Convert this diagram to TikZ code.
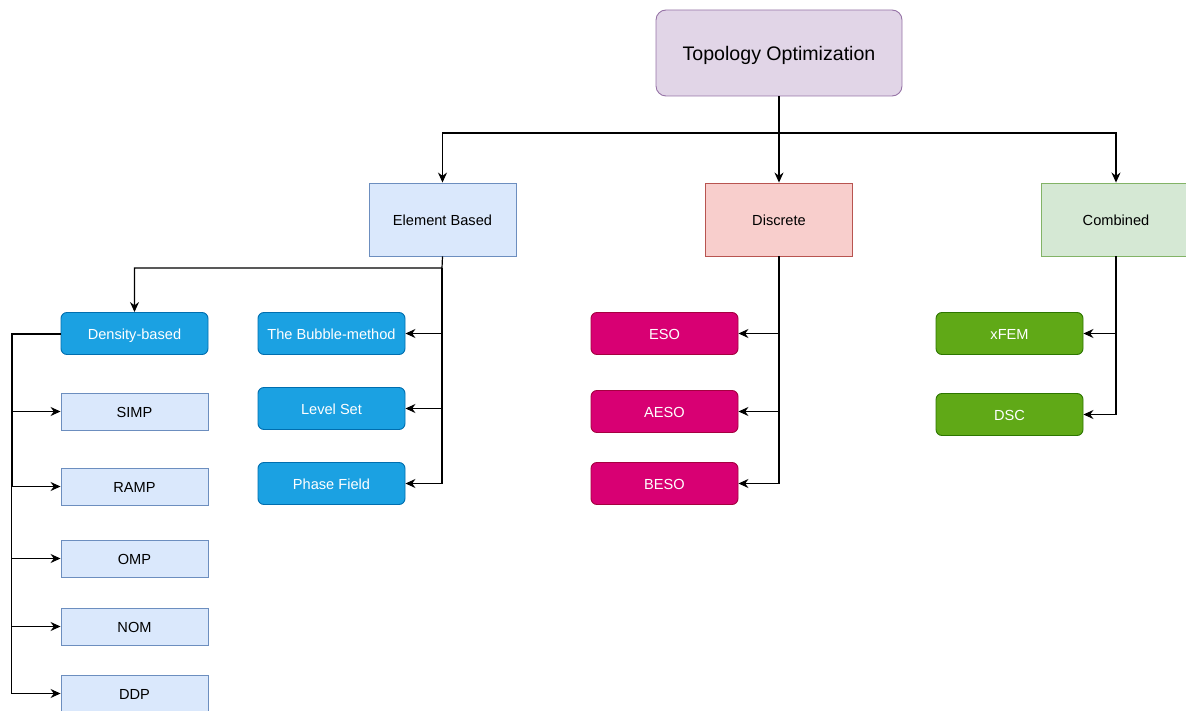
\documentclass[tikz,border=0pt]{standalone}
\usepackage{fontspec}
\setmainfont{Liberation Sans}
\usetikzlibrary{arrows.meta}
\definecolor{purpF}{HTML}{E1D5E7}\definecolor{purpS}{HTML}{9673A6}
\definecolor{blueF}{HTML}{DAE8FC}\definecolor{blueS}{HTML}{6C8EBF}
\definecolor{redF}{HTML}{F8CECC}\definecolor{redS}{HTML}{B85450}
\definecolor{greenF}{HTML}{D5E8D4}\definecolor{greenS}{HTML}{82B366}
\definecolor{cyanF}{HTML}{1BA1E2}\definecolor{cyanS}{HTML}{006EAF}
\definecolor{magF}{HTML}{D80073}\definecolor{magS}{HTML}{A50040}
\definecolor{limeF}{HTML}{60A917}\definecolor{limeS}{HTML}{2D7600}
\tikzset{
  box/.style={draw, line width=0.9pt, inner sep=0pt, font=\fontsize{14.6}{17}\selectfont, text=black, text height=12.5pt, text depth=0.5pt},
  rbox/.style={box, rounded corners=6pt, text=white},
  titlebox/.style={box, rounded corners=10pt, fill=purpF, draw=purpS, minimum width=246pt, minimum height=86pt, font=\fontsize{19.6}{23}\selectfont, text height=16.5pt, text depth=0.5pt},
  catbox/.style={box, minimum width=147pt, minimum height=73pt},
  leaf/.style={rbox, minimum width=147pt, minimum height=42pt},
  sub/.style={box, fill=blueF, draw=blueS, minimum width=147pt, minimum height=37pt},
  conn/.style={line width=1.2pt, -{Stealth[length=10pt,width=9pt]}},
  line/.style={line width=1.2pt},
}
\begin{document}
\begin{tikzpicture}[x=1pt,y=-1pt]
\useasboundingbox (0,0) rectangle (1186,711);
\begin{scope}
\clip (0,0) rectangle (1186,711);
\node[titlebox] (top) at (779,53) {Topology Optimization};
\node[catbox, fill=blueF, draw=blueS] (elem) at (442.5,219.5) {Element Based};
\node[catbox, fill=redF, draw=redS] (disc) at (779,219.5) {Discrete};
\node[catbox, fill=greenF, draw=greenS, minimum width=150pt] (comb) at (1116,219.5) {Combined};
\node[leaf, fill=cyanF, draw=cyanS] (dens) at (134.5,333.5) {Density-based};
\node[leaf, fill=cyanF, draw=cyanS] (bub) at (331.5,333.5) {The Bubble-method};
\node[leaf, fill=cyanF, draw=cyanS] (lvl) at (331.5,408.5) {Level Set};
\node[leaf, fill=cyanF, draw=cyanS] (phf) at (331.5,483.5) {Phase Field};
\node[leaf, fill=magF, draw=magS] (eso) at (664.5,333.5) {ESO};
\node[leaf, fill=magF, draw=magS] (aeso) at (664.5,411.5) {AESO};
\node[leaf, fill=magF, draw=magS] (beso) at (664.5,483.5) {BESO};
\node[leaf, fill=limeF, draw=limeS] (xfem) at (1009.5,333.5) {xFEM};
\node[leaf, fill=limeF, draw=limeS] (dsc) at (1009.5,414.5) {DSC};
\node[sub] (simp) at (134.5,411.5) {SIMP};
\node[sub] (ramp) at (134.5,486.5) {RAMP};
\node[sub] (omp) at (134.5,558.5) {OMP};
\node[sub] (nom) at (134.5,626.5) {NOM};
\node[sub] (ddp) at (134.5,693.5) {DDP};
\end{scope}
% top level
\coordinate (tj) at (779,133);
\draw[line] (top.south) -- (tj);
\draw[conn] (tj) -| (elem.north);
\draw[conn] (tj) -- (disc.north);
\draw[conn] (tj) -| (comb.north);
% element based
\coordinate (ej) at (442,268);
\draw[conn] (elem.south) -- (ej) -| (dens.north);
\draw[line] (ej) -- (442,484);
\draw[conn] (442,333.5) -- (bub.east);
\draw[conn] (442,408.5) -- (lvl.east);
\draw[conn] (442,483.5) -- (phf.east);
% discrete
\draw[line] (disc.south) -- (779,484);
\draw[conn] (779,333.5) -- (eso.east);
\draw[conn] (779,411.5) -- (aeso.east);
\draw[conn] (779,483.5) -- (beso.east);
% combined
\draw[line] (comb.south) -- (1116,415);
\draw[conn] (1116,333.5) -- (xfem.east);
\draw[conn] (1116,414.5) -- (dsc.east);
% density based
\coordinate (dj) at (11.5,333.5);
\draw[line width=2pt] (dens.west) -- (dj) -- (11.5,487);
\draw[line] (11.5,487) -- (11.5,693.5);
\draw[conn] (11.5,411.5) -- (simp.west);
\draw[conn] (11.5,486.5) -- (ramp.west);
\draw[conn] (11.5,558.5) -- (omp.west);
\draw[conn] (11.5,626.5) -- (nom.west);
\draw[conn] (11.5,693.5) -- (ddp.west);
\end{tikzpicture}
\end{document}
